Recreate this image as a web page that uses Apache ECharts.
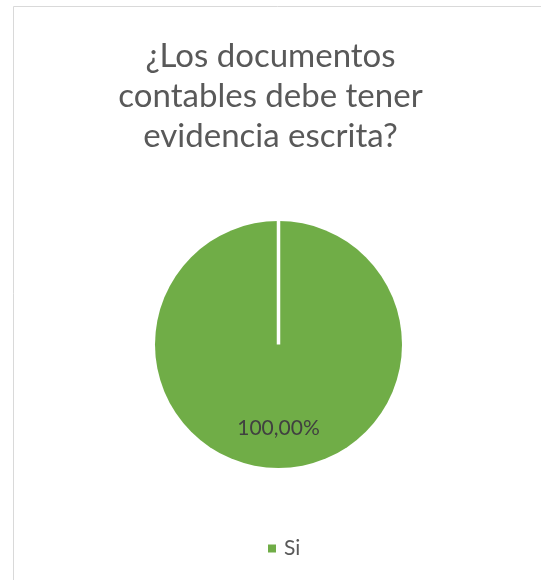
<!DOCTYPE html>
<html>
<head>
<meta charset="utf-8">
<script src="https://cdn.jsdelivr.net/npm/echarts@6/dist/echarts.min.js"></script>
<style>
  html, body { margin: 0; padding: 0; background: #ffffff; }
  #main { width: 541px; height: 580px; }
</style>
</head>
<body>
<div id="main"></div>
<script>
// datos del grafico
var titulo = '¿Los documentos\ncontables debe tener\nevidencia escrita?';
var categorias = ['Si'];
var valores = [100];
var colores = ['#70AD47'];

var data = [];
categorias.forEach(function (c, i) {
    data.push({ name: c, value: valores[i], itemStyle: { color: colores[i] } });
});

var myChart = echarts.init(document.getElementById('main'));
var option = {
    animation: false,
    title: {
        text: titulo,
        left: 'center',
        top: 31,
        textStyle: {
            fontFamily: 'Lato',
            fontWeight: 'normal',
            fontSize: 33,
            lineHeight: 40,
            color: '#595959'
        }
    },
    legend: {
        top: 533,
        left: 263,
        icon: 'rect',
        itemWidth: 8,
        itemHeight: 8,
        itemGap: 10,
        textStyle: {
            fontFamily: 'Lato',
            fontSize: 21,
            color: '#595959',
            padding: [0, 0, 0, 3]
        },
        data: categorias
    },
    series: [{
        type: 'pie',
        center: [278.5, 344.5],
        radius: 123.5,
        startAngle: 90,
        clockwise: true,
        silent: true,
        itemStyle: {
            borderColor: '#ffffff',
            borderWidth: 0
        },
        label: {
            show: true,
            position: 'inside',
            offset: [0, 19],
            fontFamily: 'Lato',
            fontSize: 21,
            color: '#404040',
            formatter: function (p) {
                return p.percent.toFixed(2).replace('.', ',') + '%';
            }
        },
        labelLine: { show: false },
        data: data
    }]
};
myChart.setOption(option);

// borde blanco del sector (linea radial desde el centro hasta el borde)
var lay = myChart.getModel().getSeriesByIndex(0).getData().getItemLayout(0);
var ang = lay.startAngle;
myChart.setOption({
    graphic: [{
        type: 'rect',
        silent: true,
        shape: { x: 13.5, y: 6.5, width: 700, height: 700 },
        style: { fill: 'none', stroke: '#d9d9d9', lineWidth: 1 }
    }, {
        type: 'line',
        silent: true,
        z: 10,
        shape: {
            x1: lay.cx, y1: lay.cy,
            x2: lay.cx + lay.r * Math.cos(ang), y2: lay.cy + lay.r * Math.sin(ang)
        },
        style: { stroke: '#ffffff', lineWidth: 3.5 }
    }]
});
</script>
</body>
</html>
